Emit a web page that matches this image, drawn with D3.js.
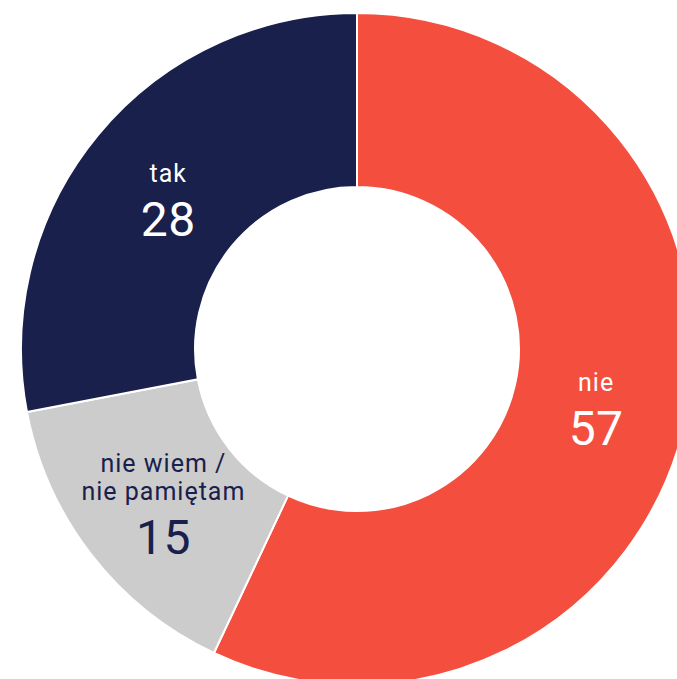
<!DOCTYPE html>
<html>
<head>
<meta charset="utf-8">
<script src="https://cdn.jsdelivr.net/npm/d3@7"></script>
<style>
  html, body { margin: 0; padding: 0; background: #ffffff; overflow: hidden; }
  svg { display: block; }
  text { font-family: Roboto, "Noto Sans", sans-serif; }
</style>
</head>
<body>
<svg id="chart" width="677" height="679"></svg>
<script>
// Answer shares (percent), drawn clockwise from 12 o'clock
const categories = ["nie", "nie wiem / nie pamiętam", "tak"];
const labelLines = [["nie"], ["nie wiem /", "nie pamiętam"], ["tak"]];
const values = [57, 15, 28];
const colors = ["#f44e3f", "#cccccc", "#18204b"];
const textColors = ["#ffffff", "#18204b", "#ffffff"];

const svg = d3.select("#chart");
const cx = 357, cy = 349;
const outerR = 336, innerR = 162, labelR = 245;

const data = categories.map((c, i) => ({ name: c, lines: labelLines[i], value: values[i], color: colors[i], text: textColors[i] }));

const pie = d3.pie().sort(null).value(d => d.value);
const arc = d3.arc().innerRadius(innerR).outerRadius(outerR);
const labelArc = d3.arc().innerRadius(labelR).outerRadius(labelR);

const g = svg.append("g").attr("transform", `translate(${cx},${cy})`);
const arcs = pie(data);

g.selectAll("path.slice")
  .data(arcs)
  .join("path")
  .attr("class", "slice")
  .attr("d", arc)
  .attr("fill", d => d.data.color)
  .attr("stroke", "#ffffff")
  .attr("stroke-width", 2);

const labels = g.selectAll("g.label")
  .data(arcs)
  .join("g")
  .attr("class", "label")
  .attr("transform", d => {
    const [x, y] = labelArc.centroid(d);
    return `translate(${x},${y})`;
  });

labels.each(function (d) {
  const sel = d3.select(this);
  const n = d.data.lines.length;
  const first = -11 - (n - 1) * 16;
  d.data.lines.forEach((t, i) => {
    sel.append("text")
      .attr("text-anchor", "middle")
      .attr("y", first + i * 28)
      .attr("font-size", 25)
      .attr("letter-spacing", 1)
      .attr("fill", d.data.text)
      .text(t);
  });
  sel.append("text")
    .attr("text-anchor", "middle")
    .attr("y", first + (n - 1) * 28 + 54)
    .attr("font-size", 48)
    .attr("letter-spacing", 0.5)
    .attr("fill", d.data.text)
    .text(d.data.value);
});
</script>
</body>
</html>
